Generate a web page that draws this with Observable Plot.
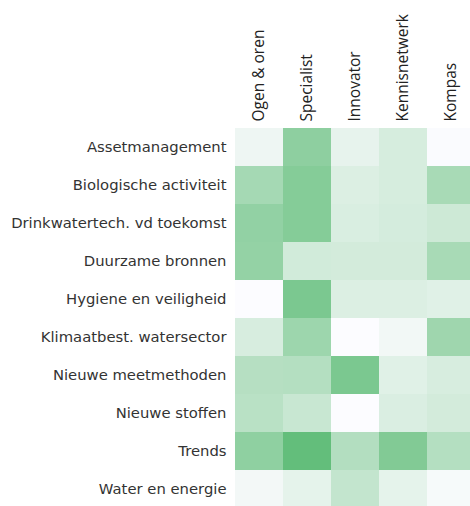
<!DOCTYPE html>
<html>
<head>
<meta charset="utf-8">
<script src="https://cdn.jsdelivr.net/npm/d3@7"></script>
<script src="https://cdn.jsdelivr.net/npm/@observablehq/plot@0.6"></script>
<style>
html, body { margin: 0; padding: 0; background: #fff; overflow: hidden; }
#chart svg { display: block; max-width: none !important; }
</style>
</head>
<body>
<div id="chart"></div>
<script>
const topics = [
  "Assetmanagement",
  "Biologische activiteit",
  "Drinkwatertech. vd toekomst",
  "Duurzame bronnen",
  "Hygiene en veiligheid",
  "Klimaatbest. watersector",
  "Nieuwe meetmethoden",
  "Nieuwe stoffen",
  "Trends",
  "Water en energie"
];
const roles = ["Ogen & oren", "Specialist", "Innovator", "Kennisnetwerk", "Kompas"];
// relative scores (0 = lowest, 1 = highest), one list per role
const ogenEnOren    = [0.09, 0.57, 0.69, 0.68, 0.00, 0.24, 0.46, 0.44, 0.71, 0.06];
const specialist    = [0.72, 0.78, 0.78, 0.28, 0.84, 0.62, 0.47, 0.34, 1.00, 0.15];
const innovator     = [0.14, 0.21, 0.23, 0.27, 0.21, 0.00, 0.84, 0.00, 0.48, 0.37];
const kennisnetwerk = [0.25, 0.25, 0.26, 0.27, 0.21, 0.065, 0.18, 0.22, 0.80, 0.15];
const kompas        = [0.01, 0.55, 0.31, 0.55, 0.18, 0.61, 0.24, 0.27, 0.47, 0.04];
const series = [ogenEnOren, specialist, innovator, kennisnetwerk, kompas];

const data = [];
roles.forEach((r, j) => topics.forEach((t, i) => data.push({role: r, topic: t, value: series[j][i]})));

const chart = Plot.plot({
  width: 476,
  height: 509,
  marginTop: 127,
  marginLeft: 234,
  marginRight: 0,
  marginBottom: 0,
  style: {background: "#fff"},
  x: {domain: roles, padding: 0, axis: null},
  y: {domain: topics, padding: 0, axis: null},
  color: {type: "linear", domain: [0, 1], range: ["#FCFCFF", "#63BE7B"], interpolate: "rgb"},
  marks: [
    Plot.cell(data, {x: "role", y: "topic", fill: "value", inset: 0}),
    Plot.axisX({anchor: "top", tickRotate: -90, tickSize: 0, tickPadding: 6, label: null,
      fontSize: 15.5, fontFamily: "Open Sans", fill: "#222"}),
    Plot.axisY({anchor: "left", tickSize: 0, tickPadding: 8, label: null,
      fontSize: 14.8, fontFamily: "DejaVu Sans", fill: "#333"})
  ]
});
document.getElementById("chart").appendChild(chart);
</script>
</body>
</html>
